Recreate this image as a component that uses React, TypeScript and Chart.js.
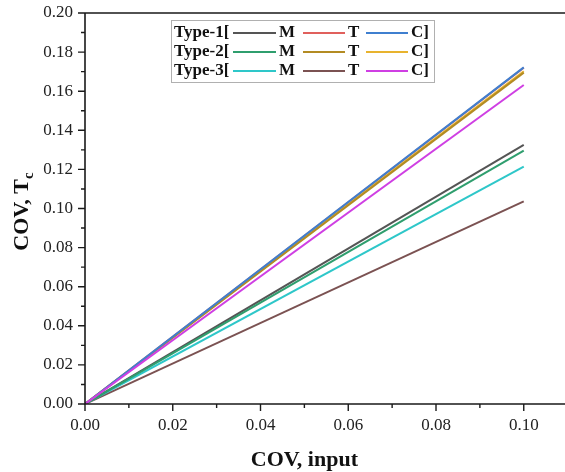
import React, { useEffect, useRef } from "react";
import { Chart, registerables } from "chart.js";

Chart.register(...registerables);

const xValues = [0, 0.1];
const type1M = [0, 0.1325];
const type1T = [0, 0.1720];
const type1C = [0, 0.1722];
const type2M = [0, 0.1296];
const type2T = [0, 0.1695];
const type2C = [0, 0.1702];
const type3M = [0, 0.1214];
const type3T = [0, 0.1036];
const type3C = [0, 0.1632];

const xTickValues = [0, 0.02, 0.04, 0.06, 0.08, 0.1];
const yTickValues = [0, 0.02, 0.04, 0.06, 0.08, 0.1, 0.12, 0.14, 0.16, 0.18, 0.2];
const legendRows = ["Type-1[", "Type-2[", "Type-3["];
const legendLabels = ["M", "T", "C]"];
const xTitle = "COV, input";
const yTitleMain = "COV, T";
const yTitleSub = "c";

const SERIF = '"Liberation Serif", "Times New Roman", serif';

const seriesDefs = [
  { label: "Type-1 M", data: type1M, color: "#555555", order: 5 },
  { label: "Type-1 T", data: type1T, color: "#e0605c", order: 8 },
  { label: "Type-1 C", data: type1C, color: "#3f7fcf", order: 1 },
  { label: "Type-2 M", data: type2M, color: "#2f9e6e", order: 4 },
  { label: "Type-2 T", data: type2T, color: "#b38b23", order: 2 },
  { label: "Type-2 C", data: type2C, color: "#e8b32e", order: 3 },
  { label: "Type-3 M", data: type3M, color: "#2ec7c9", order: 6 },
  { label: "Type-3 T", data: type3T, color: "#7b5252", order: 7 },
  { label: "Type-3 C", data: type3C, color: "#cf3fe3", order: 0 },
];

const decorPlugin = {
  id: "decor",
  afterDraw(chart: any) {
    const ctx = chart.ctx as CanvasRenderingContext2D;
    const { left, right, top, bottom } = chart.chartArea;
    const xs = chart.scales.x;
    const ys = chart.scales.y;
    ctx.save();
    ctx.strokeStyle = "#1a1a1a";
    ctx.lineWidth = 1.6;
    ctx.beginPath();
    ctx.moveTo(left, top);
    ctx.lineTo(right, top);
    ctx.moveTo(left, top);
    ctx.lineTo(left, bottom);
    ctx.lineTo(right, bottom);
    ctx.stroke();
    ctx.lineWidth = 1.4;
    ctx.beginPath();
    for (let i = 0; i <= 20; i++) {
      const py = ys.getPixelForValue(i * 0.01);
      const len = i % 2 === 0 ? 7 : 4;
      ctx.moveTo(left, py);
      ctx.lineTo(left - len, py);
    }
    for (let i = 0; i <= 11; i++) {
      const px = xs.getPixelForValue(i * 0.01);
      if (px > right + 1) continue;
      const len = i % 2 === 0 ? 7 : 4;
      ctx.moveTo(px, bottom);
      ctx.lineTo(px, bottom + len);
    }
    ctx.stroke();

    // axis titles
    ctx.fillStyle = "#111";
    ctx.font = `bold 22px ${SERIF}`;
    ctx.textAlign = "center";
    ctx.textBaseline = "middle";
    ctx.fillText(xTitle, xs.getPixelForValue(0.05), 460);

    ctx.save();
    const cy = (top + bottom) / 2 + 3;
    ctx.translate(21, cy);
    ctx.rotate(-Math.PI / 2);
    ctx.font = `bold 22px ${SERIF}`;
    const w1 = ctx.measureText(yTitleMain).width;
    ctx.font = `bold 15px ${SERIF}`;
    const w2 = ctx.measureText(yTitleSub).width;
    const start = -(w1 + w2) / 2;
    ctx.textAlign = "left";
    ctx.textBaseline = "alphabetic";
    ctx.font = `bold 22px ${SERIF}`;
    ctx.fillText(yTitleMain, start, 7);
    ctx.font = `bold 15px ${SERIF}`;
    ctx.fillText(yTitleSub, start + w1, 12);
    ctx.restore();

    // legend
    const boxL = 171, boxT = 20, boxR = 434, boxB = 82;
    ctx.fillStyle = "#ffffff";
    ctx.fillRect(boxL, boxT, boxR - boxL, boxB - boxT);
    ctx.strokeStyle = "#b0b0b0";
    ctx.lineWidth = 1;
    ctx.strokeRect(boxL + 0.5, boxT + 0.5, boxR - boxL, boxB - boxT);
    ctx.font = `bold 17px ${SERIF}`;
    ctx.fillStyle = "#111";
    ctx.textAlign = "left";
    ctx.textBaseline = "middle";
    const ds = chart.data.datasets;
    const lineStarts = [233, 303, 366];
    const lineLens = [43, 42, 42];
    const labelXs = [279, 348, 411];
    legendRows.forEach((rowText: string, r: number) => {
      const y = 33 + r * 19;
      ctx.fillStyle = "#111";
      ctx.fillText(rowText, 174, y);
      for (let k = 0; k < 3; k++) {
        const d = ds[r * 3 + k];
        ctx.strokeStyle = d.borderColor;
        ctx.lineWidth = 2;
        ctx.beginPath();
        ctx.moveTo(lineStarts[k], y);
        ctx.lineTo(lineStarts[k] + lineLens[k], y);
        ctx.stroke();
        ctx.fillStyle = "#111";
        ctx.fillText(legendLabels[k], labelXs[k], y);
      }
    });
    ctx.restore();
  },
};

export default function App() {
  const ref = useRef<HTMLCanvasElement | null>(null);
  useEffect(() => {
    if (!ref.current) return;
    const chart = new Chart(ref.current, {
      type: "line",
      data: {
        datasets: seriesDefs.map((s) => ({
          label: s.label,
          data: xValues.map((x, i) => ({ x, y: s.data[i] })),
          borderColor: s.color,
          backgroundColor: s.color,
          borderWidth: 2,
          pointRadius: 0,
          tension: 0,
          order: s.order,
        })),
      },
      options: {
        animation: false,
        responsive: true,
        maintainAspectRatio: false,
        layout: { padding: { top: 13, right: 0, left: 0, bottom: 0 } },
        plugins: { legend: { display: false }, tooltip: { enabled: false } },
        scales: {
          x: {
            type: "linear",
            min: 0,
            max: 0.1094,
            afterBuildTicks: (s: any) => {
              s.ticks = xTickValues.map((v) => ({ value: v }));
            },
            afterFit: (s: any) => {
              s.height = 68;
              s.paddingLeft = 0;
              s.paddingRight = 0;
            },
            grid: { display: false, drawTicks: false },
            border: { display: false },
            ticks: {
              color: "#222",
              font: { family: SERIF, size: 17 },
              padding: 11,
              maxRotation: 0,
              autoSkip: false,
              callback: (v: any) => Number(v).toFixed(2),
            },
          },
          y: {
            type: "linear",
            min: 0,
            max: 0.2,
            afterBuildTicks: (s: any) => {
              s.ticks = yTickValues.map((v) => ({ value: v }));
            },
            afterFit: (s: any) => {
              s.width = 85;
              s.paddingTop = 0;
              s.paddingBottom = 0;
            },
            grid: { display: false, drawTicks: false },
            border: { display: false },
            ticks: {
              color: "#222",
              font: { family: SERIF, size: 17 },
              padding: 12,
              autoSkip: false,
              callback: (v: any) => Number(v).toFixed(2),
            },
          },
        },
      },
      plugins: [decorPlugin],
    });
    return () => chart.destroy();
  }, []);
  return (
    <div style={{ position: "fixed", left: 0, top: 0, width: 565, height: 472, background: "#fff" }}>
      <canvas ref={ref} />
    </div>
  );
}
